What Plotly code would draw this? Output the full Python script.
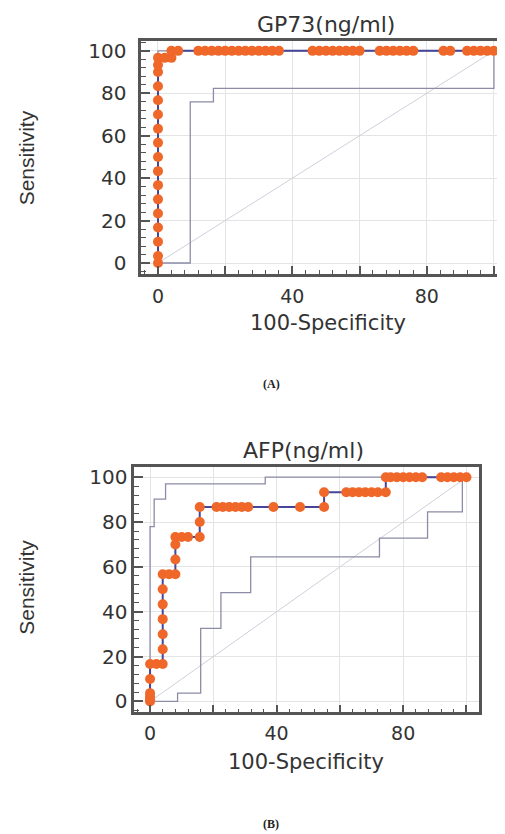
import plotly.graph_objects as go

# ---------------- data ----------------
gp73_title = "GP73(ng/ml)"
gp73_fpr = [0, 0, 0, 0, 0, 0, 0, 0, 0, 0, 0, 0, 0, 0, 0, 0, 0,
            2, 4, 4, 6,
            12, 14, 16, 18, 20, 22, 24, 26, 28, 30, 32, 34, 36,
            46, 48, 50, 52, 54, 56, 58, 60,
            66, 68, 70, 72, 74, 76,
            85, 87,
            92, 94, 96, 98, 100]
gp73_sens = [0, 3.3, 10, 16.7, 23.3, 30, 36.7, 43.3, 50, 56.7, 63.3, 70, 76.7, 83.3, 90, 93.3, 96.7,
             96.7, 96.7, 100, 100,
             100, 100, 100, 100, 100, 100, 100, 100, 100, 100, 100, 100, 100,
             100, 100, 100, 100, 100, 100, 100, 100,
             100, 100, 100, 100, 100, 100,
             100, 100,
             100, 100, 100, 100, 100]
gp73_lower_x = [0, 9.6, 9.6, 16.5, 16.5, 100, 100]
gp73_lower_y = [0, 0, 76, 76, 82.3, 82.3, 100]
gp73_upper_x = [0, 0, 100]
gp73_upper_y = [0, 100, 100]

afp_title = "AFP(ng/ml)"
afp_fpr = [0, 0, 0, 0, 0, 0, 2, 4,
           4, 4, 4, 4, 4, 4, 6, 8,
           8, 8, 8, 10, 12, 15.7,
           15.7, 15.7,
           21, 23, 25, 27, 29, 31, 39, 47.4, 55,
           55, 62, 64, 66, 68, 70, 72, 74.5,
           74.5, 76, 78, 80, 82, 84, 86,
           92, 94, 96, 98, 100]
afp_sens = [0, 1, 2.2, 3.7, 10, 16.7, 16.7, 16.7,
            23.3, 30, 36.7, 43.3, 50, 56.7, 56.7, 56.7,
            63.3, 70, 73.3, 73.3, 73.3, 73.3,
            80, 86.7,
            86.7, 86.7, 86.7, 86.7, 86.7, 86.7, 86.7, 86.7, 86.7,
            93.3, 93.3, 93.3, 93.3, 93.3, 93.3, 93.3, 93.3,
            100, 100, 100, 100, 100, 100, 100,
            100, 100, 100, 100, 100]
afp_lower_x = [0, 8.7, 8.7, 16, 16, 22.4, 22.4, 31.8, 31.8, 72.5, 72.5, 87.7, 87.7, 98.7, 98.7]
afp_lower_y = [0, 0, 3.7, 3.7, 32.6, 32.6, 48.5, 48.5, 64.5, 64.5, 72.8, 72.8, 84.5, 84.5, 100]
afp_upper_x = [0, 0, 1.3, 1.3, 4.9, 4.9, 36.4, 36.4, 100]
afp_upper_y = [0, 78, 78, 90.2, 90.2, 97, 97, 100, 100]

diag_x = [0, 100]
diag_y = [0, 100]

x_tickvals = [0, 20, 40, 60, 80, 100]
x_ticktext = ["0", "", "40", "", "80", ""]
y_tickvals = [0, 20, 40, 60, 80, 100]
y_ticktext = ["0", "20", "40", "60", "80", "100"]

x_title = "100-Specificity"
y_title = "Sensitivity"
panel_labels = ["(A)", "(B)"]

# ---------------- style ----------------
OFF = 8                      # page body margin
W, H = 505 - OFF, 834 - OFF
ROC_LINE = "#45459a"
ROC_MARK = "#f0672a"
BAND = "#8c8ca6"
DIAG = "#cfcfdc"
FRAME = "#555555"
GRID = "#e4e4e4"
TXT = "#333333"
SANS = "DejaVu Sans"


def px(x):
    return (x - OFF) / W


def py(y):
    return 1 - (y - OFF) / H


fig = go.Figure()


def add_panel(xa, ya, fpr, sens, lx, ly, ux, uy):
    fig.add_trace(go.Scatter(x=diag_x, y=diag_y, mode="lines", xaxis=xa, yaxis=ya,
                             line=dict(color=DIAG, width=1), showlegend=False, hoverinfo="skip"))
    fig.add_trace(go.Scatter(x=lx, y=ly, mode="lines", xaxis=xa, yaxis=ya,
                             line=dict(color=BAND, width=1.3), showlegend=False))
    fig.add_trace(go.Scatter(x=ux, y=uy, mode="lines", xaxis=xa, yaxis=ya,
                             line=dict(color=BAND, width=1.3), showlegend=False))
    fig.add_trace(go.Scatter(x=fpr, y=sens, mode="lines+markers", xaxis=xa, yaxis=ya,
                             line=dict(color=ROC_LINE, width=2),
                             marker=dict(color=ROC_MARK, size=10, line=dict(width=0)),
                             showlegend=False, cliponaxis=False))


add_panel("x", "y", gp73_fpr, gp73_sens, gp73_lower_x, gp73_lower_y, gp73_upper_x, gp73_upper_y)
add_panel("x2", "y2", afp_fpr, afp_sens, afp_lower_x, afp_lower_y, afp_upper_x, afp_upper_y)


def xaxis_style(domain, rng, anchor, standoff):
    return dict(domain=domain, range=rng, anchor=anchor,
                tickmode="array", tickvals=x_tickvals, ticktext=x_ticktext,
                ticks="inside", ticklen=8, tickwidth=1.5, tickcolor=FRAME,
                minor=dict(tickmode="linear", tick0=0, dtick=4, ticks="inside", ticklen=4,
                           tickwidth=1, tickcolor=FRAME, showgrid=False),
                showgrid=True, gridcolor=GRID, gridwidth=1, zeroline=False,
                showline=True, linecolor=FRAME, linewidth=2.5, mirror=True,
                ticklabelstandoff=standoff,
                tickfont=dict(family=SANS, size=19, color=TXT))


def yaxis_style(domain, rng, anchor, standoff):
    return dict(domain=domain, range=rng, anchor=anchor,
                tickmode="array", tickvals=y_tickvals, ticktext=y_ticktext,
                ticks="inside", ticklen=9, tickwidth=1.5, tickcolor=FRAME,
                minor=dict(tickmode="linear", tick0=0, dtick=4, ticks="inside", ticklen=5,
                           tickwidth=1, tickcolor=FRAME, showgrid=False),
                showgrid=True, gridcolor=GRID, gridwidth=1, zeroline=False,
                showline=True, linecolor=FRAME, linewidth=2.5, mirror=True,
                ticklabelstandoff=standoff,
                tickfont=dict(family=SANS, size=20, color=TXT))


fig.update_layout(
    width=W, height=H,
    margin=dict(l=0, r=0, t=0, b=0),
    paper_bgcolor="white", plot_bgcolor="white",
    xaxis=xaxis_style([px(142), 1.0], [-5, 102.4], "y", 3),
    yaxis=yaxis_style([py(273), py(39)], [-5.2, 104.7], "x", 8),
    xaxis2=xaxis_style([px(135), px(482)], [-5, 104], "y2", 2),
    yaxis2=yaxis_style([py(713), py(467)], [-4.9, 104.4], "x2", 0),
)

ann = []
for title, (cx, cy) in [(gp73_title, (328, 23)), (afp_title, (305, 450))]:
    ann.append(dict(text=title, x=px(cx), y=py(cy), xref="paper", yref="paper",
                    showarrow=False, xanchor="center", yanchor="middle",
                    font=dict(family=SANS, size=22, color=TXT)))
for (cx, cy) in [(330, 322), (308, 763)]:
    ann.append(dict(text=x_title, x=px(cx), y=py(cy), xref="paper", yref="paper",
                    showarrow=False, xanchor="center", yanchor="middle",
                    font=dict(family=SANS, size=21, color=TXT)))
for (cx, cy) in [(27, 156), (27, 587)]:
    ann.append(dict(text=y_title, x=px(cx), y=py(cy), xref="paper", yref="paper",
                    showarrow=False, xanchor="center", yanchor="middle", textangle=-90,
                    font=dict(family="Liberation Sans Narrow, Liberation Sans, Arial", size=21, color=TXT)))
for lab, (cx, cy) in zip(panel_labels, [(273, 383), (273, 825)]):
    ann.append(dict(text="<b>" + lab + "</b>", x=px(cx), y=py(cy), xref="paper", yref="paper",
                    showarrow=False, xanchor="center", yanchor="middle",
                    font=dict(family="Liberation Serif", size=12, color="#222")))
fig.update_layout(annotations=ann)

fig.write_html("out.html")
